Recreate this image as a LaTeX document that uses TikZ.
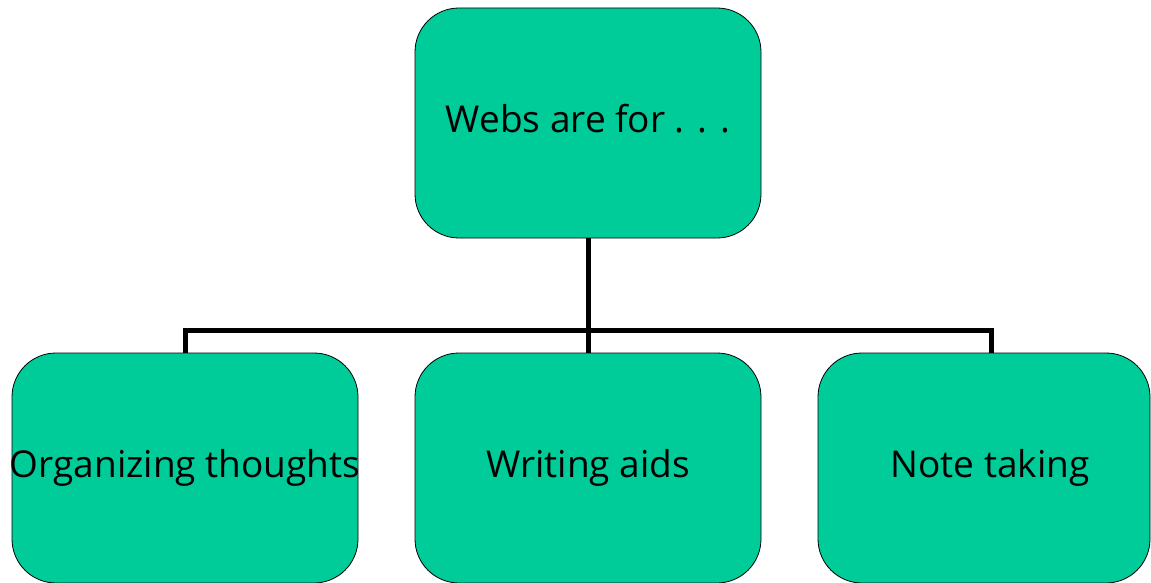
\documentclass[tikz,border=0pt]{standalone}
\usepackage{fontspec}
\setmainfont{Open Sans}
\definecolor{boxgreen}{HTML}{00CC99}
\newcommand{\boxlabel}[2][0pt]{\makebox[0pt]{\hspace{#1}\raisebox{4pt}{#2}}}
\begin{document}
\begin{tikzpicture}[x=1pt,y=-1pt,
  box/.style={draw=black, line width=0.8pt, fill=boxgreen, rounded corners=44pt,
    minimum width=346pt, minimum height=230pt, inner sep=0pt, font=\fontsize{37}{44}\selectfont},
  link/.style={line width=5pt}]
\useasboundingbox (0,0) rectangle (1151,583);
\node[box] (top) at (588,123) {\boxlabel{\raisebox{5pt}{Webs are for . . .}}};
\node[box] (left) at (185,468) {\boxlabel{Organizing thoughts}};
\node[box] (mid) at (588,468) {\boxlabel{Writing aids}};
\node[box, minimum width=332pt] (right) at (984,468) {\boxlabel[12pt]{Note taking}};
\coordinate (hub) at (588,330);
\draw[link] (top.south) -- (mid.north);
\draw[link] (left.north -| 185,0) |- (hub) -| (right.north -| 991,0);
\end{tikzpicture}
\end{document}
